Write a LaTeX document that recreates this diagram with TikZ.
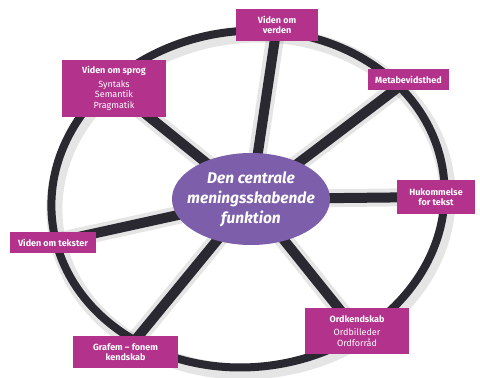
\documentclass[tikz,border=0pt]{standalone}
\usepackage{fontspec}
\setmainfont{Fira Sans}
\usepackage{xcolor}
\usepackage{tikz}
\usetikzlibrary{
  backgrounds
}
\definecolor{ringgray}{HTML}{2A2931}
\definecolor{boxpink}{HTML}{B2328C}
\definecolor{midpurple}{HTML}{7C5EAA}

\begin{document}
\begin{tikzpicture}[%スタイル
          x=1pt,y=-1pt,
          box/.style={
              fill=boxpink,
              text=white,
              inner sep=0pt,
              align=center,
              font=\fontsize{9}{10.5}\selectfont\bfseries
            },
          spoke/.style={draw=ringgray,line width=10pt},
          wheel/.style={draw=ringgray,line width=8pt},
          glow/.style={draw=black,opacity=.10,line width=#1},
          glow/.default=16pt
        ]
        \useasboundingbox (0,0) rectangle (480,378);

        % 中心の楕円
        \fill[midpurple] (251,199) ellipse [x radius=79,y radius=46];
        \node[
          inner sep=0pt,
          text=white,
          align=center,
          font=\fontsize{15.5}{20}\selectfont\bfseries\itshape
        ] (mid) at (251,199) {Den centrale\\meningsskabende\\funktion};

        % 周りの箱
        \node[box,minimum width=82pt,minimum height=32pt] (verden) at (277,25) {Viden om\\verden};
        \node[box,minimum width=81pt,minimum height=21pt] (meta) at (408.5,79.5) {Metabevidsthed};
        \node[box,minimum width=78pt,minimum height=34pt] (huk) at (436,197) {Hukommelse\\for tekst};
        \node[box,minimum width=104pt,minimum height=46pt] (ord) at (357,331)
          {Ordkendskab\\[3pt]\mdseries Ordbilleder\\\mdseries Ordforråd};
        \node[box,minimum width=105pt,minimum height=32pt] (grafem) at (125.5,352) {Grafem – fonem\\kendskab};
        \node[box,minimum width=86pt,minimum height=21pt] (tekster) at (53,242.5) {Viden om tekster};
        \node[box,minimum width=104pt,minimum height=57pt] (sprog) at (114,88.5)
          {Viden om sprog\\[3pt]\mdseries Syntaks\\\mdseries Semantik\\\mdseries Pragmatik};

        % 輪と腕
        \begin{pgfonlayer}{background}
          \begin{scope}[shift={(3,4)}]
            \draw[glow] (248,199) ellipse [x radius=197,y radius=168,rotate=7];
            \foreach \b in {verden,meta,huk,ord,grafem,tekster,sprog}
              \draw[glow=18pt] (mid.center) -- (\b.center);
          \end{scope}
          \draw[wheel] (248,199) ellipse [x radius=197,y radius=168,rotate=7];
          \foreach \b in {verden,meta,huk,ord,grafem,tekster,sprog}
            \draw[spoke] (mid.center) -- (\b.center);
        \end{pgfonlayer}

      \end{tikzpicture}
\end{document}
